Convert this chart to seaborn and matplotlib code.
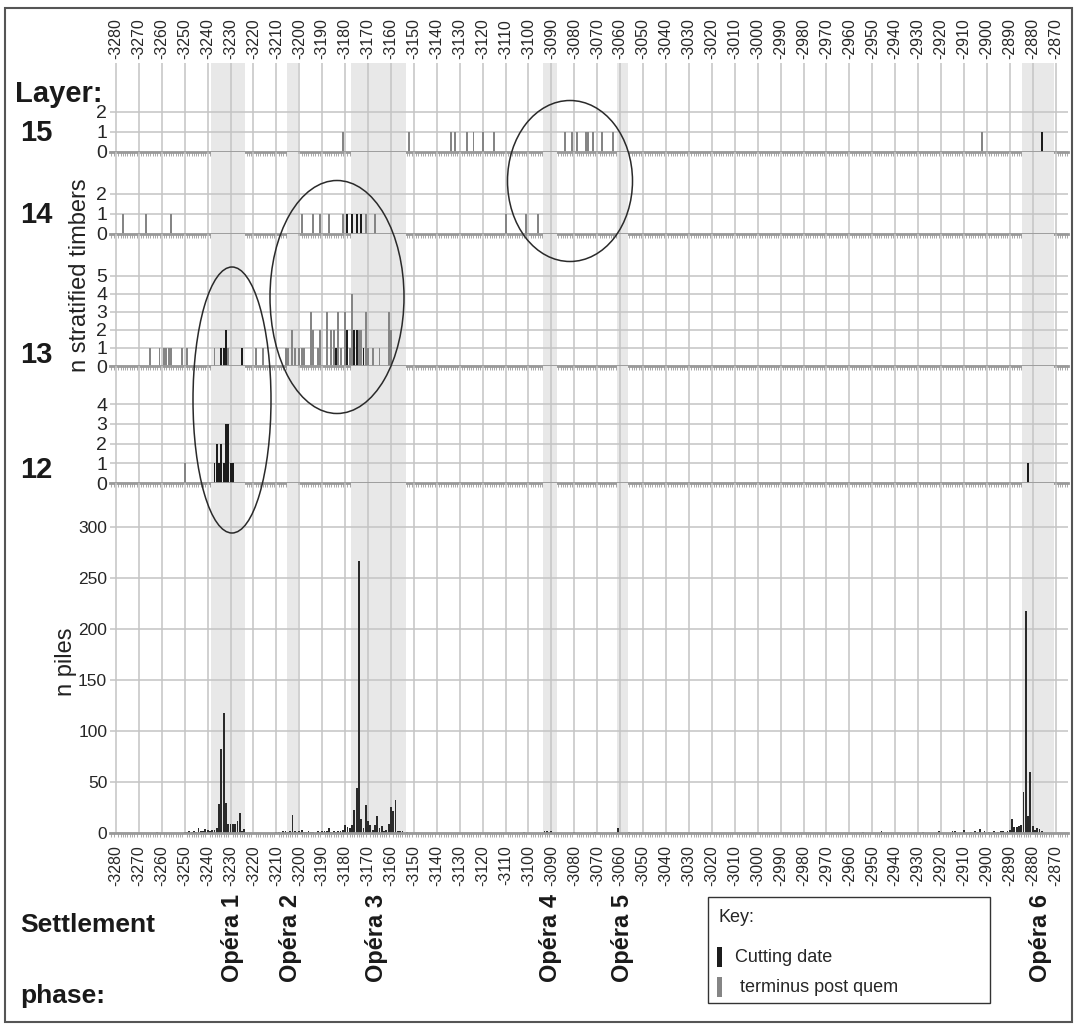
import numpy as np
import pandas as pd
import matplotlib
matplotlib.use("Agg")
import matplotlib.pyplot as plt
from matplotlib.patches import Ellipse, Rectangle
from matplotlib.ticker import MultipleLocator
import seaborn as sns

# ---------------- data (years BC as negative numbers) ----------------
# layer 15
l15_cut_years = [-2876]
l15_cut_n = [1]
l15_tpq_years = [-3181, -3152, -3134, -3132, -3127, -3124, -3120, -3115,
                 -3084, -3081, -3079, -3075, -3074, -3072, -3068, -3063, -2902]
l15_tpq_n = [1, 1, 1, 1, 1, 1, 1, 1, 1, 1, 1, 1, 1, 1, 1, 1, 1]

# layer 14
l14_cut_years = [-3179, -3177, -3175, -3173]
l14_cut_n = [1, 1, 1, 1]
l14_tpq_years = [-3277, -3267, -3256, -3199, -3194, -3191, -3187, -3181,
                 -3171, -3167, -3110, -3101, -3096]
l14_tpq_n = [1, 1, 1, 1, 1, 1, 1, 1, 1, 1, 1, 1, 1]

# layer 13
l13_cut_years = [-3234, -3233, -3232, -3225, -3184, -3179, -3176, -3175, -3172]
l13_cut_n = [1, 1, 2, 1, 1, 2, 2, 2, 1]
l13_tpq_years = [-3265, -3261, -3259, -3258, -3257, -3256, -3251, -3249, -3237,
                 -3231, -3219, -3216, -3206, -3205, -3203, -3202, -3200, -3199,
                 -3198, -3195, -3194, -3192, -3191, -3188, -3186, -3185, -3183,
                 -3182, -3180, -3178, -3177, -3174, -3173, -3171, -3170, -3168,
                 -3165, -3161, -3160]
l13_tpq_n = [1, 1, 1, 1, 1, 1, 1, 1, 1,
             1, 1, 1, 1, 1, 2, 1, 1, 1,
             1, 3, 2, 1, 2, 3, 2, 2, 3,
             1, 3, 1, 4, 2, 2, 3, 1, 1,
             1, 3, 2]

# layer 12
l12_cut_years = [-3237, -3236, -3235, -3234, -3233, -3232, -3231, -3230, -3229, -2882]
l12_cut_n = [1, 2, 1, 2, 1, 3, 3, 1, 1, 1]
l12_tpq_years = [-3250]
l12_tpq_n = [1]

# piles per felling year
pile_years = [-3262, -3250, -3249, -3248, -3247, -3246, -3245, -3244, -3243, -3242,
              -3241, -3240, -3239, -3238, -3237, -3236, -3235, -3234, -3233, -3232,
              -3231, -3230, -3229, -3228, -3227, -3226, -3225, -3224,
              -3210, -3209, -3207, -3206, -3205, -3204, -3203, -3202, -3201, -3200,
              -3199, -3198, -3197, -3196, -3195, -3194, -3192, -3191, -3190, -3189,
              -3188, -3187, -3186, -3185, -3184, -3183, -3182, -3181, -3180,
              -3179, -3178, -3177, -3176, -3175, -3174, -3173, -3172, -3171, -3170,
              -3169, -3168, -3167, -3166, -3165, -3164, -3163, -3162, -3161, -3160,
              -3159, -3158, -3157, -3156, -3155, -3153,
              -3102, -3093, -3092, -3091, -3090, -3080, -3071, -3061, -3056,
              -2954, -2946, -2928, -2921, -2915, -2914, -2910, -2907, -2905, -2904,
              -2903, -2901, -2899, -2897, -2895, -2894, -2893, -2891, -2890,
              -2889, -2888, -2887, -2886, -2885, -2884, -2883, -2882, -2881, -2880,
              -2879, -2878, -2877, -2876]
pile_n = [1, 1, 1, 2, 1, 2, 1, 5, 2, 2,
          4, 3, 2, 3, 3, 5, 28, 82, 118, 29,
          9, 9, 9, 9, 12, 20, 2, 4,
          1, 1, 2, 2, 1, 2, 18, 2, 1, 2,
          3, 1, 1, 2, 1, 1, 2, 1, 2, 2,
          2, 5, 1, 2, 1, 2, 2, 3, 8,
          6, 5, 8, 23, 44, 267, 14, 5, 27, 12,
          8, 3, 8, 17, 5, 7, 2, 3, 9, 25,
          22, 32, 2, 2, 2, 1,
          1, 2, 2, 1, 2, 1, 1, 5, 1,
          1, 2, 1, 2, 2, 2, 3, 1, 2, 1,
          4, 2, 1, 2, 1, 2, 2, 2, 3,
          14, 6, 6, 7, 8, 40, 218, 17, 60, 7,
          3, 5, 4, 2]

phase_names = ["Opéra 1", "Opéra 2", "Opéra 3", "Opéra 4", "Opéra 5", "Opéra 6"]
phase_spans = [(-3238, -3224), (-3205, -3201), (-3177, -3154),
               (-3093, -3088), (-3061, -3057), (-2884, -2871)]
year_ticks = list(range(-3280, -2869, 10))
kinds = ["Cutting date", "terminus post quem"]

# ---------------- style ----------------
sns.set_style("white")
plt.rcParams["font.family"] = ["Liberation Sans", "DejaVu Sans"]
plt.rcParams["axes.unicode_minus"] = False

W, H = 1077, 1028
fig = plt.figure(figsize=(W / 100, H / 100), dpi=100)

L = 110 / W
AW = (1068 - 110) / W


def rect(top, bot):
    return [L, 1 - bot / H, AW, (bot - top) / H]


def fx(x):
    return x / W


def fy(y):
    return 1 - y / H


grid_c = "#c4c4c4"
base_c = "#9a9a9a"
pal = {"Cutting date": "#1c1c1c", "terminus post quem": "#858585"}

panels = [
    (63, 152, 4.45, [0, 1, 2], l15_cut_years, l15_cut_n, l15_tpq_years, l15_tpq_n),
    (152, 234, 4.1, [0, 1, 2], l14_cut_years, l14_cut_n, l14_tpq_years, l14_tpq_n),
    (234, 366, 7.3, [0, 1, 2, 3, 4, 5], l13_cut_years, l13_cut_n, l13_tpq_years, l13_tpq_n),
    (366, 483, 5.94, [0, 1, 2, 3, 4], l12_cut_years, l12_cut_n, l12_tpq_years, l12_tpq_n),
]


def style_axis(ax, yticks, ylim):
    for a, b in phase_spans:
        ax.axvspan(a - 0.5, b + 0.5, color="#e8e8e8", lw=0, zorder=0)
    ax.set_xlim(-3282.6, -2864.6)
    ax.set_ylim(0, ylim)
    ax.set_xticks(year_ticks)
    ax.xaxis.set_minor_locator(MultipleLocator(1))
    ax.set_yticks(yticks)
    ax.set_axisbelow(True)
    ax.grid(True, which="major", color=grid_c, lw=1.1)
    for s in ["top", "left", "right"]:
        ax.spines[s].set_visible(False)
    ax.spines["bottom"].set_color(base_c)
    ax.spines["bottom"].set_linewidth(2)
    ax.tick_params(axis="x", which="minor", length=3, width=0.6, color=base_c,
                   bottom=True, top=False)
    ax.tick_params(axis="x", which="major", length=3, width=0.8, color=base_c,
                   labelbottom=False)
    ax.tick_params(axis="y", length=0, pad=2)
    ax.set_xlabel("")
    ax.set_ylabel("")
    ax.set_facecolor("none")


layer_axes = []
for top, bot, ylim, yticks, cy, cn, ty, tn in panels:
    ax = fig.add_axes(rect(top, bot))
    df = pd.DataFrame({
        "year": cy + ty,
        "n": cn + tn,
        "kind": [kinds[0]] * len(cy) + [kinds[1]] * len(ty),
    })
    sns.histplot(data=df, x="year", weights="n", hue="kind", hue_order=kinds,
                 palette=pal, multiple="stack", discrete=True, shrink=0.85,
                 linewidth=0, alpha=1, legend=False, ax=ax)
    style_axis(ax, yticks, ylim)
    ax.tick_params(axis="y", labelsize=14)
    layer_axes.append(ax)

# top year labels
ax_top = layer_axes[0]
ax_top.tick_params(axis="x", which="major", top=True, labeltop=True, length=0,
                   labelrotation=90, labelsize=11.5, pad=3)

# piles panel
axp = fig.add_axes(rect(483, 833))
sns.histplot(x=pile_years, weights=pile_n, discrete=True, shrink=0.8,
             color="#2a2a2a", linewidth=0, alpha=1, ax=axp)
style_axis(axp, list(range(0, 301, 50)), 343)
axp.tick_params(axis="x", which="major", length=7, labelbottom=True,
                labelrotation=90, labelsize=11.5, pad=2)
axp.tick_params(axis="y", labelsize=12.5)

# ---------------- annotations ----------------
bold = dict(fontweight="bold", color="#1a1a1a")
fig.text(fx(15), fy(94), "Layer:", fontsize=21, ha="left", va="center", **bold)
for lab, y in [("15", 133), ("14", 215), ("13", 355), ("12", 470)]:
    fig.text(fx(20), fy(y), lab, fontsize=21, ha="left", va="center", **bold)

fig.text(fx(80), fy(275), "n stratified timbers", fontsize=17, rotation=90,
         ha="center", va="center", color="#222222")
fig.text(fx(66), fy(662), "n piles", fontsize=17, rotation=90,
         ha="center", va="center", color="#222222")

for name, x in zip(phase_names, [232, 290, 376, 551, 622, 1040]):
    fig.text(fx(x), fy(938), name, fontsize=17, rotation=90,
             ha="center", va="center", **bold)

fig.text(fx(20), fy(925), "Settlement", fontsize=19, ha="left", va="center", **bold)
fig.text(fx(20), fy(996), "phase:", fontsize=19, ha="left", va="center", **bold)

# key
fig.add_artist(Rectangle((fx(708), fy(1003)), (990 - 708) / W, (1003 - 897) / H,
                         transform=fig.transFigure, fill=False, ec="#333333", lw=1))
fig.text(fx(718), fy(918), "Key:", fontsize=13, ha="left", va="center")
fig.add_artist(Rectangle((fx(717), fy(967)), 5 / W, 20 / H, transform=fig.transFigure,
                         color=pal["Cutting date"], lw=0))
fig.add_artist(Rectangle((fx(717), fy(997)), 5 / W, 20 / H, transform=fig.transFigure,
                         color=pal["terminus post quem"], lw=0))
fig.text(fx(735), fy(957), "Cutting date", fontsize=13, ha="left", va="center")
fig.text(fx(735), fy(987), " terminus post quem", fontsize=13, ha="left", va="center")

# ellipses round the clusters
for cx, cy, w, h in [(232, 400, 78, 266), (337, 297, 134, 233), (570, 181, 125, 161)]:
    fig.add_artist(Ellipse((fx(cx), fy(cy)), w / W, h / H, transform=fig.transFigure,
                           fill=False, ec="#2a2a2a", lw=1.1))

# outer frame
fig.add_artist(Rectangle((fx(5), fy(1022)), 1067 / W, 1014 / H, transform=fig.transFigure,
                         fill=False, ec="#555555", lw=1.5))

plt.savefig("out.png", dpi=100)
